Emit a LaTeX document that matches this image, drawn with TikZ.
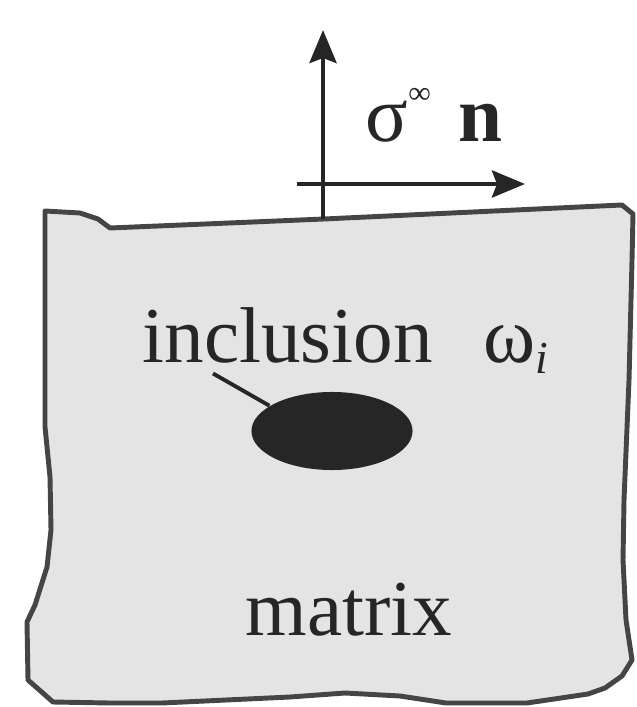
\documentclass[tikz,border=0pt]{standalone}
\usepackage{fontspec}
\setmainfont{Liberation Serif}
\usepackage{tikz}
\usetikzlibrary{shapes.geometric, arrows.meta, positioning}
\definecolor{matfill}{HTML}{E4E4E4}
\definecolor{edgegray}{HTML}{454545}
\definecolor{inkdark}{HTML}{262626}

\begin{document}
\begin{tikzpicture}[
  x=0.01cm, y=-0.01cm,
  label/.style={inner sep=0pt, anchor=base west, text=inkdark, font=\fontsize{22.5}{26}\selectfont},
  arrow/.style={-{Stealth[length=3.3mm, width=2.7mm, inset=0.5mm]}, line width=1.3pt, draw=inkdark},
  leader/.style={line width=1.1pt, draw=inkdark},
]
  \useasboundingbox (0,0) rectangle (636,707);

  % matrix body
  \draw[fill=matfill, draw=edgegray, line width=1.4pt, line join=round]
    (45,211) -- (80,213) -- (98,219) -- (110,228) -- (324,219) -- (622,205) -- (633,214)
    -- (632,260) -- (629,380) -- (624,500) -- (623,560) -- (626,620) -- (632,660)
    -- (622,676) -- (605,688) -- (588,694) -- (527,703) -- (446,703) -- (400,696) -- (345,693)
    -- (290,697) -- (162,703) -- (110,703) -- (53,702) -- (28,680) -- (27,622)
    -- (35,605) -- (47,567) -- (51,530) -- (50,477) -- (45,427) -- cycle;

  % traction at the far boundary
  \coordinate (base) at (323,219);
  \coordinate (up) at (323,30);
  \coordinate (tleft) at (297,184);
  \coordinate (tright) at (525,184);
  \draw[arrow] (base) -- (up);
  \draw[arrow] (tleft) -- (tright);
  \node[label] (traction) at (365,142) {σ\raisebox{1.05ex}{\fontsize{9}{10}\selectfont ∞}\hspace{0.35em}\textbf{n}};

  \node[ellipse, fill=inkdark, inner sep=0pt, minimum width=1.61cm, minimum height=0.78cm] (incl) at (332,431) {};
  \node[label] (lbl) at (142,363) {inclusion};
  \node[label] (omega) at (483,363) {ω\raisebox{-0.3ex}{\fontsize{13}{14}\selectfont\itshape i}};
  \draw[leader] ([shift={(71,9)}]lbl.south west) -- (incl.158);

  \node[label] (mat) at (245,635) {matrix};
\end{tikzpicture}
\end{document}
